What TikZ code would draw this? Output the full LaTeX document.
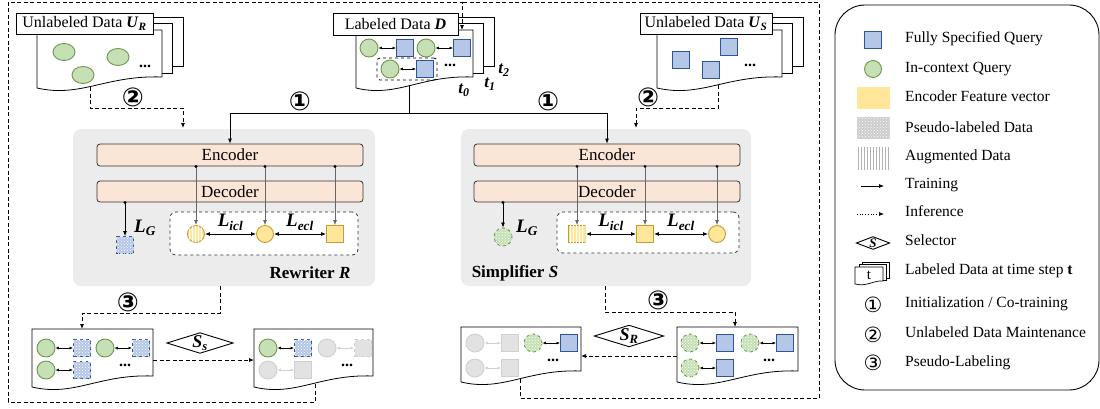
\documentclass[tikz,border=0pt]{standalone}
\usepackage{fontspec}
\setmainfont{Liberation Serif}
\newfontfamily\circfont{DejaVu Sans}
\usetikzlibrary{arrows.meta,patterns,shapes.geometric,positioning}

\definecolor{qfill}{RGB}{180,199,231}
\definecolor{qdraw}{RGB}{47,85,151}
\definecolor{cfill}{RGB}{197,224,180}
\definecolor{cdraw}{RGB}{112,150,80}
\definecolor{ffill}{RGB}{255,230,153}
\definecolor{fdraw}{RGB}{196,156,50}
\definecolor{encfill}{RGB}{251,229,214}
\definecolor{panelgray}{RGB}{236,236,236}
\definecolor{offfill}{RGB}{226,226,226}
\definecolor{offdraw}{RGB}{208,208,208}

\tikzset{
  qry/.style={draw=qdraw, fill=qfill, line width=0.9pt, minimum size=17pt, inner sep=0pt},
  ctx/.style={circle, draw=cdraw, fill=cfill, line width=0.9pt, minimum size=18pt, inner sep=0pt},
  feat/.style={draw=fdraw, fill=ffill, line width=0.9pt, minimum size=17pt, inner sep=0pt},
  pseudo/.style={dashed, postaction={pattern=crosshatch dots, pattern color=white}},
  aug/.style={postaction={pattern=vertical lines, pattern color=white}},
  off/.style={draw=offdraw, fill=offfill, line width=0.9pt, minimum size=17pt, inner sep=0pt},
  pair/.style={<->, >={Latex[length=3.5pt,width=3pt]}, line width=0.8pt},
  offpair/.style={pair, draw=offdraw},
  infer/.style={dash pattern=on 4pt off 2.5pt, line width=0.8pt},
  feed/.style={->, draw=gray!80!black, line width=0.7pt},
  lbl/.style={draw, fill=white, line width=0.9pt, minimum height=21pt, inner sep=0pt},
  panel/.style={fill=panelgray, rounded corners=8pt, inner sep=0pt},
  enc/.style={draw=black!80, fill=encfill, rounded corners=3pt, line width=0.8pt, inner sep=0pt,
    font=\fontsize{17}{17}\selectfont},
  lossbox/.style={draw=black!80, dashed, fill=white, rounded corners=6pt, line width=0.8pt, inner sep=0pt},
  loss/.style={font=\fontsize{19}{19}\selectfont\bfseries\itshape},
  title/.style={font=\fontsize{17}{17}\selectfont\bfseries},
  circ/.style={font=\circfont\fontsize{26}{26}\selectfont\bfseries},
  legcirc/.style={font=\circfont\fontsize{21}{21}\selectfont},
  sel/.style={diamond, draw, fill=white, aspect=3.2, inner sep=0.5pt, line width=0.9pt,
    font=\fontsize{18}{18}\selectfont\bfseries\itshape},
  legtext/.style={anchor=west, inner sep=0pt, text height=1.6ex, text depth=0.3ex,
    font=\fontsize{15.5}{17}\selectfont},
  dots/.style={font=\fontsize{16}{16}\selectfont\bfseries}
}

% wavy document: x1, top, x2, bottom (left)
\newcommand\docpath[4]{%
  \draw[fill=white, line width=0.8pt] (#1,#2) -- (#3,#2) -- (#3,#4-11)
    .. controls ({#1+0.55*(#3-#1)},#4-13) and ({#1+0.35*(#3-#1)},#4+10) .. (#1,#4) -- cycle;}
% stack of three documents
\newcommand\stackdoc[4]{%
  \draw[fill=white, line width=0.8pt] (#1+20,#2-13) rectangle (#3+21,#4-22);
  \draw[fill=white, line width=0.8pt] (#1+10,#2-7) rectangle (#3+10,#4-15);
  \docpath{#1}{#2}{#3}{#4}}

\begin{document}
\begin{tikzpicture}[x=1pt, y=-1pt, >={Latex[length=5pt,width=4pt]},
    every node/.append style={font=\fontsize{16}{18}\selectfont}]
  \useasboundingbox (0,0) rectangle (1100,408);

  % data pools
  \stackdoc{37}{30}{162}{88}
  \stackdoc{356}{30}{473}{88}
  \stackdoc{657}{30}{782}{88}
  \node[lbl, minimum width=137pt] (ur) at (84.5,23.5) {Unlabeled Data \textbf{\textit{U}\textsubscript{\textit{R}}}};
  \node[lbl, minimum width=125pt, minimum height=22pt] (ld) at (395.5,24) {Labeled Data \textbf{\textit{D}}};
  \node[lbl, minimum width=132pt] (us) at (706,23.5) {Unlabeled Data \textbf{\textit{U}\textsubscript{\textit{S}}}};

  \node[ctx, ellipse, minimum width=22pt, minimum height=17pt] (ur1) at (64,52) {};
  \node[ctx, ellipse, minimum width=22pt, minimum height=17pt] (ur2) at (118,57) {};
  \node[ctx, ellipse, minimum width=22pt, minimum height=17pt] (ur3) at (83,75) {};
  \node[dots] (urdots) at (145,66) {...};

  \node[qry] (us1) at (681,60) {};
  \node[qry] (us2) at (729,47) {};
  \node[qry] (us3) at (711,70) {};
  \node[dots] (usdots) at (750,65) {...};

  \node[draw, dashed, rounded corners=3pt, line width=0.8pt, minimum width=60pt, minimum height=22pt] (dsel) at (407,69) {};
  \node[ctx] (d1c) at (369,48) {};
  \node[qry] (d1q) at (405,48) {};
  \node[ctx] (d2c) at (426,48) {};
  \node[qry] (d2q) at (462,48) {};
  \node[ctx] (d3c) at (390,69) {};
  \node[qry] (d3q) at (425,69) {};
  \node[dots] (ddots) at (450,65) {...};
  \foreach \a/\b in {d1c/d1q, d2c/d2q, d3c/d3q}
    \draw[pair] (\a) -- (\b);
  \node[font=\fontsize{17}{17}\selectfont\bfseries\itshape] (t2) at (504,70) {t\textsubscript{2}};
  \node[font=\fontsize{17}{17}\selectfont\bfseries\itshape] (t1) at (490,84) {t\textsubscript{1}};
  \node[font=\fontsize{17}{17}\selectfont\bfseries\itshape] (t0) at (464,90) {t\textsubscript{0}};

  % models
  \node[panel, minimum width=302pt, minimum height=157pt] (rw) at (224,207.5) {};
  \node[panel, minimum width=290pt, minimum height=157pt] (sw) at (606,207.5) {};
  \node[enc, minimum width=266pt, minimum height=22pt] (renc) at (230,155) {Encoder};
  \node[enc, minimum width=266pt, minimum height=21pt] (rdec) at (230,191.5) {Decoder};
  \node[enc, minimum width=266pt, minimum height=22pt] (senc) at (607,155) {Encoder};
  \node[enc, minimum width=266pt, minimum height=21pt] (sdec) at (607,191.5) {Decoder};
  \node[lossbox, minimum width=188pt, minimum height=43pt] (rbox) at (264,233.5) {};
  \node[lossbox, minimum width=182pt, minimum height=41pt] (sbox) at (648,232.5) {};

  \node[feat, circle, aug] (ri1) at (196,234) {};
  \node[feat, circle] (ri2) at (265,234) {};
  \node[feat] (ri3) at (335,234) {};
  \node[qry, pseudo] (rpl) at (125,245) {};
  \node[feat, aug] (si1) at (577,234) {};
  \node[feat] (si2) at (645,234) {};
  \node[feat, circle] (si3) at (717,234) {};
  \node[ctx, pseudo] (spl) at (503,237) {};

  \foreach \n in {ri1,ri2,ri3} {
    \draw[feed] (renc.south -| \n) -- (\n.north);
    \fill (renc.south -| \n) circle (1.6pt);
  }
  \foreach \n in {si1,si2,si3} {
    \draw[feed] (senc.south -| \n) -- (\n.north);
    \fill (senc.south -| \n) circle (1.6pt);
  }
  \draw[->, line width=0.8pt] (rdec.south -| rpl) -- (rpl.north);
  \fill (rdec.south -| rpl) circle (1.6pt);
  \draw[->, line width=0.8pt] (sdec.south -| spl) -- (spl.north);
  \fill (sdec.south -| spl) circle (1.6pt);

  \node[loss] (rlg) at (145,228) {L\textsubscript{G}};
  \node[loss] (slg) at (527,228) {L\textsubscript{G}};
  \draw[<->, line width=0.9pt] (ri1) -- (ri2) node[loss, midway, above=0pt] (rlicl) {L\textsubscript{icl}};
  \draw[<->, line width=0.9pt] (ri2) -- (ri3) node[loss, midway, above=0pt] (rlecl) {L\textsubscript{ecl}};
  \draw[<->, line width=0.9pt] (si1) -- (si2) node[loss, midway, above=0pt] (slicl) {L\textsubscript{icl}};
  \draw[<->, line width=0.9pt] (si2) -- (si3) node[loss, midway, above=0pt] (slecl) {L\textsubscript{ecl}};
  \node[title] (rname) at (310,273) {Rewriter \textit{R}};
  \node[title] (sname) at (515,273) {Simplifier \textit{S}};

  % initialization / co-training and maintenance
  \coordinate (dbot) at (409,85);
  \coordinate (split) at (409,113);
  \draw[->, line width=0.8pt] (dbot) -- (split) -| (renc.north);
  \draw[->, line width=0.8pt] (split) -| (senc.north);
  \node[circ] (c1l) at (300,101) {①};
  \node[circ] (c1r) at (548,101) {①};
  \coordinate (urb) at (90,87);
  \coordinate (rin) at (183,128);
  \draw[infer, ->] (urb) -- (90,108) -| (rin);
  \coordinate (usb) at (718,85);
  \coordinate (sin) at (636,128);
  \draw[infer, ->] (usb) -- (718,108) -| (sin);
  \node[circ] (c2l) at (133,97) {②};
  \node[circ] (c2r) at (648,97) {②};

  % pseudo-labeling
  \docpath{32}{329}{153}{387}
  \docpath{254}{329}{373}{387}
  \docpath{461}{327}{581}{382}
  \docpath{677}{327}{798}{382}
  \coordinate (rwout) at (220,286);
  \coordinate (bl1in) at (82,329);
  \draw[infer, ->] (rwout) -- (220,313) -| (bl1in);
  \coordinate (swout) at (605,286);
  \coordinate (brin) at (735,327);
  \draw[infer, ->] (swout) -- (605,312) -| (brin);
  \node[circ] (c3l) at (128,302) {③};
  \node[circ] (c3r) at (658,300) {③};

  \node[ctx] (a1c) at (46,348) {};
  \node[qry, pseudo] (a1q) at (82,348) {};
  \node[ctx] (a2c) at (105,348) {};
  \node[qry, pseudo] (a2q) at (141,348) {};
  \node[ctx] (a3c) at (46,370) {};
  \node[qry, pseudo] (a3q) at (82,370) {};
  \node[dots] (adots) at (125,365) {...};
  \node[ctx] (b1c) at (268,348) {};
  \node[qry, pseudo] (b1q) at (303,348) {};
  \node[off, circle, minimum size=18pt] (b2c) at (327,348) {};
  \node[off, dashed] (b2q) at (363,348) {};
  \node[off, circle, minimum size=18pt] (b3c) at (268,370) {};
  \node[off] (b3q) at (303,370) {};
  \node[dots] (bdots) at (347,365) {...};
  \foreach \a/\b in {a1c/a1q, a2c/a2q, a3c/a3q, b1c/b1q}
    \draw[pair] (\a) -- (\b);
  \foreach \a/\b in {b2c/b2q, b3c/b3q}
    \draw[offpair] (\a) -- (\b);

  \node[ctx, pseudo] (e1c) at (690,343) {};
  \node[qry] (e1q) at (725,343) {};
  \node[ctx, pseudo] (e2c) at (750,343) {};
  \node[qry] (e2q) at (785,343) {};
  \node[ctx, pseudo] (e3c) at (690,368) {};
  \node[qry] (e3q) at (725,368) {};
  \node[dots] (edots) at (769,360) {...};
  \node[off, circle, minimum size=18pt] (f1c) at (475,343) {};
  \node[off] (f1q) at (510,343) {};
  \node[ctx, pseudo] (f2c) at (533,343) {};
  \node[qry] (f2q) at (569,343) {};
  \node[off, circle, minimum size=18pt] (f3c) at (475,368) {};
  \node[off] (f3q) at (510,368) {};
  \node[dots] (fdots) at (553,360) {...};
  \foreach \a/\b in {e1c/e1q, e2c/e2q, e3c/e3q, f2c/f2q}
    \draw[pair] (\a) -- (\b);
  \foreach \a/\b in {f1c/f1q, f3c/f3q}
    \draw[offpair] (\a) -- (\b);

  \coordinate (bl1r) at (153,360);
  \coordinate (bl2l) at (254,360);
  \draw[infer, ->] (bl1r) -- (bl2l);
  \node[sel] (ss) at (200,343) {S\textsubscript{s}};
  \coordinate (brl) at (677,356);
  \coordinate (bll) at (581,356);
  \draw[infer, ->] (brl) -- (bll);
  \node[sel] (sr) at (629,336) {S\textsubscript{R}};

  % feedback into labeled data
  \coordinate (bl2b) at (315,384);
  \coordinate (brlb) at (520,379);
  \coordinate (dtop) at (462,30);
  \draw[infer, ->] (bl2b) -- (315,402) -- (8,402) -- (8,2) -- (462,2) -- (dtop);
  \draw[infer] (brlb) -- (520,398) -- (819,398) -- (819,2) -- (462,2);

  % legend
  \draw[line width=0.9pt, rounded corners=30pt] (835,5) rectangle (1099,390);
  \node[qry] (lg1) at (873,40) {};
  \node[ctx, minimum size=17pt] (lg2) at (873,69) {};
  \node[fill=ffill, minimum width=33pt, minimum height=22pt, inner sep=0pt] (lg3) at (873,98) {};
  \node[fill=gray!40, minimum width=33pt, minimum height=22pt, inner sep=0pt,
    postaction={pattern=crosshatch dots, pattern color=white}] (lg4) at (873,128) {};
  \node[minimum width=33pt, minimum height=22pt, inner sep=0pt,
    pattern=vertical lines, pattern color=gray!60] (lg5) at (873,158) {};
  \coordinate (lg6a) at (861,186);
  \coordinate (lg6b) at (884,186);
  \draw[->, line width=0.7pt] (lg6a) -- (lg6b);
  \coordinate (lg7a) at (857,214);
  \coordinate (lg7b) at (884,214);
  \draw[->, dotted, line width=0.7pt] (lg7a) -- (lg7b);
  \node[sel, aspect=2.6, font=\fontsize{13}{13}\selectfont\bfseries\itshape] (lg8) at (873,243) {S};
  \draw[fill=white, line width=0.7pt] (862,262) rectangle (889,278);
  \draw[fill=white, line width=0.7pt] (859,264.5) rectangle (886,280.5);
  \draw[fill=white, line width=0.7pt] (855,267) -- (883,267) -- (883,281)
    .. controls (874,280) and (867,287) .. (855,284) -- cycle;
  \node[font=\fontsize{15}{15}\selectfont] (lg9) at (869,275) {t};
  \node[legcirc] (lg10) at (873,305) {①};
  \node[legcirc] (lg11) at (873,335) {②};
  \node[legcirc] (lg12) at (873,363) {③};
  \foreach \i/\y/\txt in {1/40/{Fully Specified Query}, 2/70/{In-context Query},
      3/99/{Encoder Feature vector}, 4/130/{Pseudo-labeled Data}, 5/158/{Augmented Data},
      6/186/{Training}, 7/214/{Inference}, 8/243/{Selector},
      9/272/{Labeled Data at time step \textbf{t}}, 10/305/{Initialization / Co-training},
      11/335/{Unlabeled Data Maintenance}, 12/364/{Pseudo-Labeling}}
    \node[legtext] (lt\i) at (905,\y) {\txt};
\end{tikzpicture}
\end{document}
